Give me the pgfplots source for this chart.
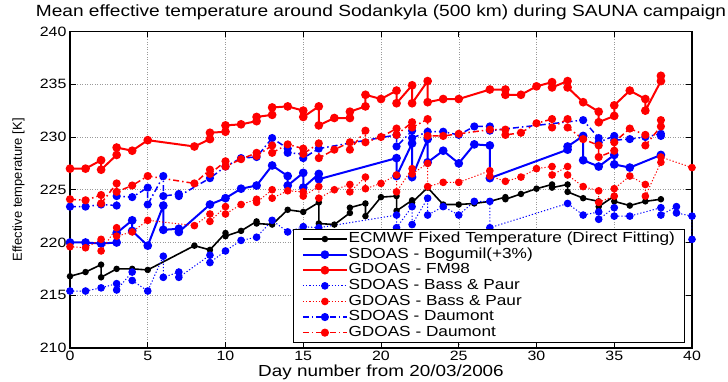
\documentclass[border=0pt]{standalone}
\usepackage{pgfplots}
\pgfplotsset{compat=1.18}
\usepackage{fontspec}
\setmainfont{Liberation Sans}[FakeStretch=1.18]
\newfontfamily\ylabfont{Liberation Sans}

\definecolor{mblue}{RGB}{0,0,255}
\definecolor{mred}{RGB}{255,0,0}

\begin{document}
\begin{tikzpicture}
\path[use as bounding box] (-70pt,-34pt) rectangle (658pt,348pt);
\begin{axis}[
  at={(0pt,0pt)}, anchor=south west,
  scale only axis, width=622pt, height=316.5pt,
  xmin=0, xmax=40, ymin=210, ymax=240,
  xtick={0,5,...,40}, ytick={210,215,...,240},
  grid=major,
  major grid style={black!40, dash pattern=on 1pt off 1.5pt, line width=0.5pt},
  tick align=inside, major tick length=6pt,
  tick style={black, line width=0.8pt},
  axis line style={black, line width=1.3pt},
  /pgf/number format/assume math mode=true,
  tick label style={font=\fontsize{13.5}{15}\selectfont},
  title={Mean effective temperature around Sodankyla (500 km) during SAUNA campaign},
  every axis title shift=0pt,
  title style={at={(axis description cs:0.5,1)}, anchor=base, yshift=14.5pt,
    font=\fontsize{16.2}{18}\selectfont},
  xlabel={Day number from 20/03/2006},
  xlabel style={at={(axis description cs:0.5,0)}, anchor=base, yshift=-29pt,
    font=\fontsize{16}{18}\selectfont},
  ylabel={Effective temperature [K]},
  ylabel style={at={(axis description cs:0,0.5)}, anchor=south, yshift=42pt,
    font=\ylabfont\fontsize{13}{15}\selectfont},
  legend cell align=left,
  legend style={at={(axis description cs:0.9885,0.018)}, anchor=south east,
    draw=black, line width=0.6pt, fill=white,
    font=\fontsize{14.6}{15}\selectfont,
    inner xsep=9pt, inner ysep=2pt,
    nodes={inner sep=0.6pt, text height=10.5pt, text depth=3pt},
    row sep=0.9pt},
  legend image code/.code={
    \draw[mark repeat=2, mark phase=2, #1] plot coordinates {(0pt,0pt) (22pt,0pt) (44pt,0pt)};
  },
  every axis plot/.append style={mark=*, mark options={solid}},
]

% ECMWF fixed temperature
\addplot[black, line width=1.6pt, mark size=2.4pt] coordinates {
(0,216.8)(1,217.2)(2,217.9)(2,216.7)(3,217.5)(4,217.5)(5,217.4)(8,219.7)(9,219.3)
(10,220.9)(10,220.6)(11,221.1)(12,222.0)(12,221.8)(13,221.7)(14,223.1)(15,222.9)
(16,223.8)(16,221.8)(17,221.7)(18,222.8)(18,223.3)(19,223.7)(19,222.5)(20,224.3)
(21,224.4)(21,223.0)(22,224.0)(22,223.8)(23,225.2)(24,223.6)(25,223.6)(26,223.7)
(27,223.9)(28,224.3)(28,224.1)(29,224.6)(30,225.1)(31,225.5)(31,225.2)(32,225.5)
(32,224.8)(33,224.2)(34,223.9)(34,223.4)(35,224.4)(35,223.9)(36,223.5)(37,223.9)
(38,224.1)};
\addlegendentry{ECMWF Fixed Temperature (Direct Fitting)}

% SDOAS - Bogumil (+3%)
\addplot[mblue, line width=2pt, mark size=3.3pt] coordinates {
(0,220.0)(1,220.0)(2,219.9)(3,220.0)(3,220.9)(4,222.1)(4,221.1)(5,219.7)(6,223.5)
(6,221.2)(7,221.3)(7,221.0)(9,223.6)(10,224.2)(11,225.1)(12,225.4)(13,227.3)
(14,226.3)(14,225.4)(15,226.6)(15,225.2)(16,226.5)(16,226.0)(21,228.0)(21,226.3)
(22,229.4)(22,226.2)(23,229.8)(23,227.6)(24,228.7)(25,227.5)(26,229.3)(27,229.2)
(27,226.1)(32,228.8)(32,229.1)(33,230.1)(33,227.8)(34,227.2)(35,228.3)(35,227.4)
(36,227.1)(38,228.3)};
\addlegendentry{SDOAS - Bogumil(+3\%)}

% GDOAS - FM98
\addplot[mred, line width=2pt, mark size=3.3pt] coordinates {
(0,227.0)(1,227.0)(2,227.8)(2,226.9)(3,228.3)(3,229.0)(4,228.7)(5,229.7)(8,229.1)
(9,229.8)(9,230.4)(10,230.5)(10,231.1)(11,231.2)(12,231.5)(12,231.9)(13,232.1)
(13,232.8)(14,232.9)(15,232.5)(15,231.9)(16,232.9)(16,231.1)(17,231.8)(18,231.8)
(18,232.4)(19,232.9)(19,234.0)(20,233.6)(21,234.4)(21,233.2)(22,234.9)(22,233.2)
(23,235.3)(23,233.3)(24,233.6)(25,233.6)(27,234.5)(28,234.5)(28,234.0)(29,234.0)
(30,234.8)(31,235.2)(31,234.7)(32,235.3)(32,234.7)(33,233.3)(34,232.4)(34,231.4)
(35,232.0)(35,233.0)(36,234.4)(37,233.6)(37,232.5)(38,235.3)(38,235.8)};
\addlegendentry{GDOAS - FM98}

% SDOAS - Bass & Paur
\addplot[mblue, line width=1pt, dash pattern=on 1.2pt off 2pt, mark size=3.3pt] coordinates {
(0,215.4)(1,215.4)(2,215.7)(3,216.1)(3,215.5)(4,217.2)(4,216.4)(5,215.4)(6,218.7)
(6,216.7)(7,217.2)(7,216.7)(9,218.8)(9,218.1)(10,219.2)(11,220.2)(12,220.5)
(13,222.1)(14,221.0)(15,221.5)(16,221.4)(21,222.6)(21,221.4)(22,223.4)(22,221.7)
(23,224.2)(23,222.6)(24,223.4)(25,222.6)(26,223.9)(27,223.9)(27,221.4)(32,223.7)
(33,222.6)(34,222.9)(34,222.2)(35,223.3)(35,222.5)(36,222.5)(38,223.3)(38,222.6)
(39,223.4)(39,222.8)(40,222.5)(40,220.3)};
\addlegendentry{SDOAS - Bass \& Paur}

% GDOAS - Bass & Paur
\addplot[mred, line width=1pt, dash pattern=on 1.2pt off 2pt, mark size=3.3pt] coordinates {
(0,219.6)(1,219.5)(2,220.3)(2,219.2)(3,221.4)(3,220.6)(4,221.0)(5,222.1)(8,221.6)
(9,222.7)(9,222.0)(10,223.4)(10,222.7)(11,223.6)(12,224.1)(12,223.8)(13,225.0)
(13,224.2)(14,224.9)(15,224.8)(15,224.4)(16,225.3)(16,224.2)(17,225.0)(18,225.5)
(18,224.8)(19,226.2)(19,225.1)(20,225.6)(21,226.4)(21,224.8)(22,227.0)(22,226.5)
(23,227.5)(23,225.3)(24,225.7)(25,225.7)(27,226.8)(27,226.3)(28,225.8)(29,226.2)
(30,227.0)(31,227.2)(31,226.4)(32,227.2)(32,226.4)(33,225.3)(34,224.9)(34,223.8)
(35,224.4)(35,225.1)(36,226.3)(37,225.5)(37,224.4)(38,227.6)(38,228.1)(40,227.1)};
\addlegendentry{GDOAS - Bass \& Paur}

% SDOAS - Daumont
\addplot[mblue, line width=1.5pt, dash pattern=on 6pt off 3pt on 1.5pt off 3pt, mark size=3.3pt] coordinates {
(0,223.4)(1,223.4)(2,223.6)(3,223.5)(3,224.4)(4,224.3)(5,225.2)(5,223.6)(6,226.3)
(6,224.4)(7,224.6)(7,224.4)(9,226.1)(10,227.2)(11,228.0)(12,228.1)(13,229.9)
(14,228.9)(14,228.5)(15,228.4)(15,228.0)(16,228.9)(21,230.2)(21,229.1)(22,230.6)
(22,229.9)(23,230.5)(24,230.5)(25,230.2)(26,231.0)(27,231.0)(27,230.6)(33,231.6)
(34,229.9)(34,229.5)(35,230.1)(35,229.7)(36,229.8)(37,230.0)(38,230.3)(38,230.1)};
\addlegendentry{SDOAS - Daumont}

% GDOAS - Daumont
\addplot[mred, line width=1.5pt, dash pattern=on 6pt off 3pt on 1.5pt off 3pt, mark size=3.3pt] coordinates {
(0,224.1)(1,224.0)(2,224.5)(2,223.7)(3,225.6)(3,224.8)(4,225.4)(5,226.3)(8,225.6)
(9,226.9)(9,226.5)(10,227.7)(10,227.2)(11,227.9)(12,228.5)(12,228.2)(13,229.2)
(13,228.5)(14,229.3)(15,228.9)(15,228.4)(16,229.4)(16,228.0)(17,228.8)(18,229.5)
(18,228.8)(19,230.6)(19,229.5)(20,230.0)(21,230.8)(21,230.2)(22,231.4)(22,230.9)
(23,231.7)(23,230.1)(24,230.1)(25,230.3)(27,230.7)(28,230.7)(28,230.2)(29,230.4)
(30,231.3)(31,231.7)(31,230.9)(32,231.7)(32,230.9)(33,229.8)(34,229.2)(34,228.1)
(35,228.7)(35,229.5)(36,230.8)(37,230.2)(37,229.2)(38,231.0)(38,231.6)};
\addlegendentry{GDOAS - Daumont}

\end{axis}
\end{tikzpicture}
\end{document}
